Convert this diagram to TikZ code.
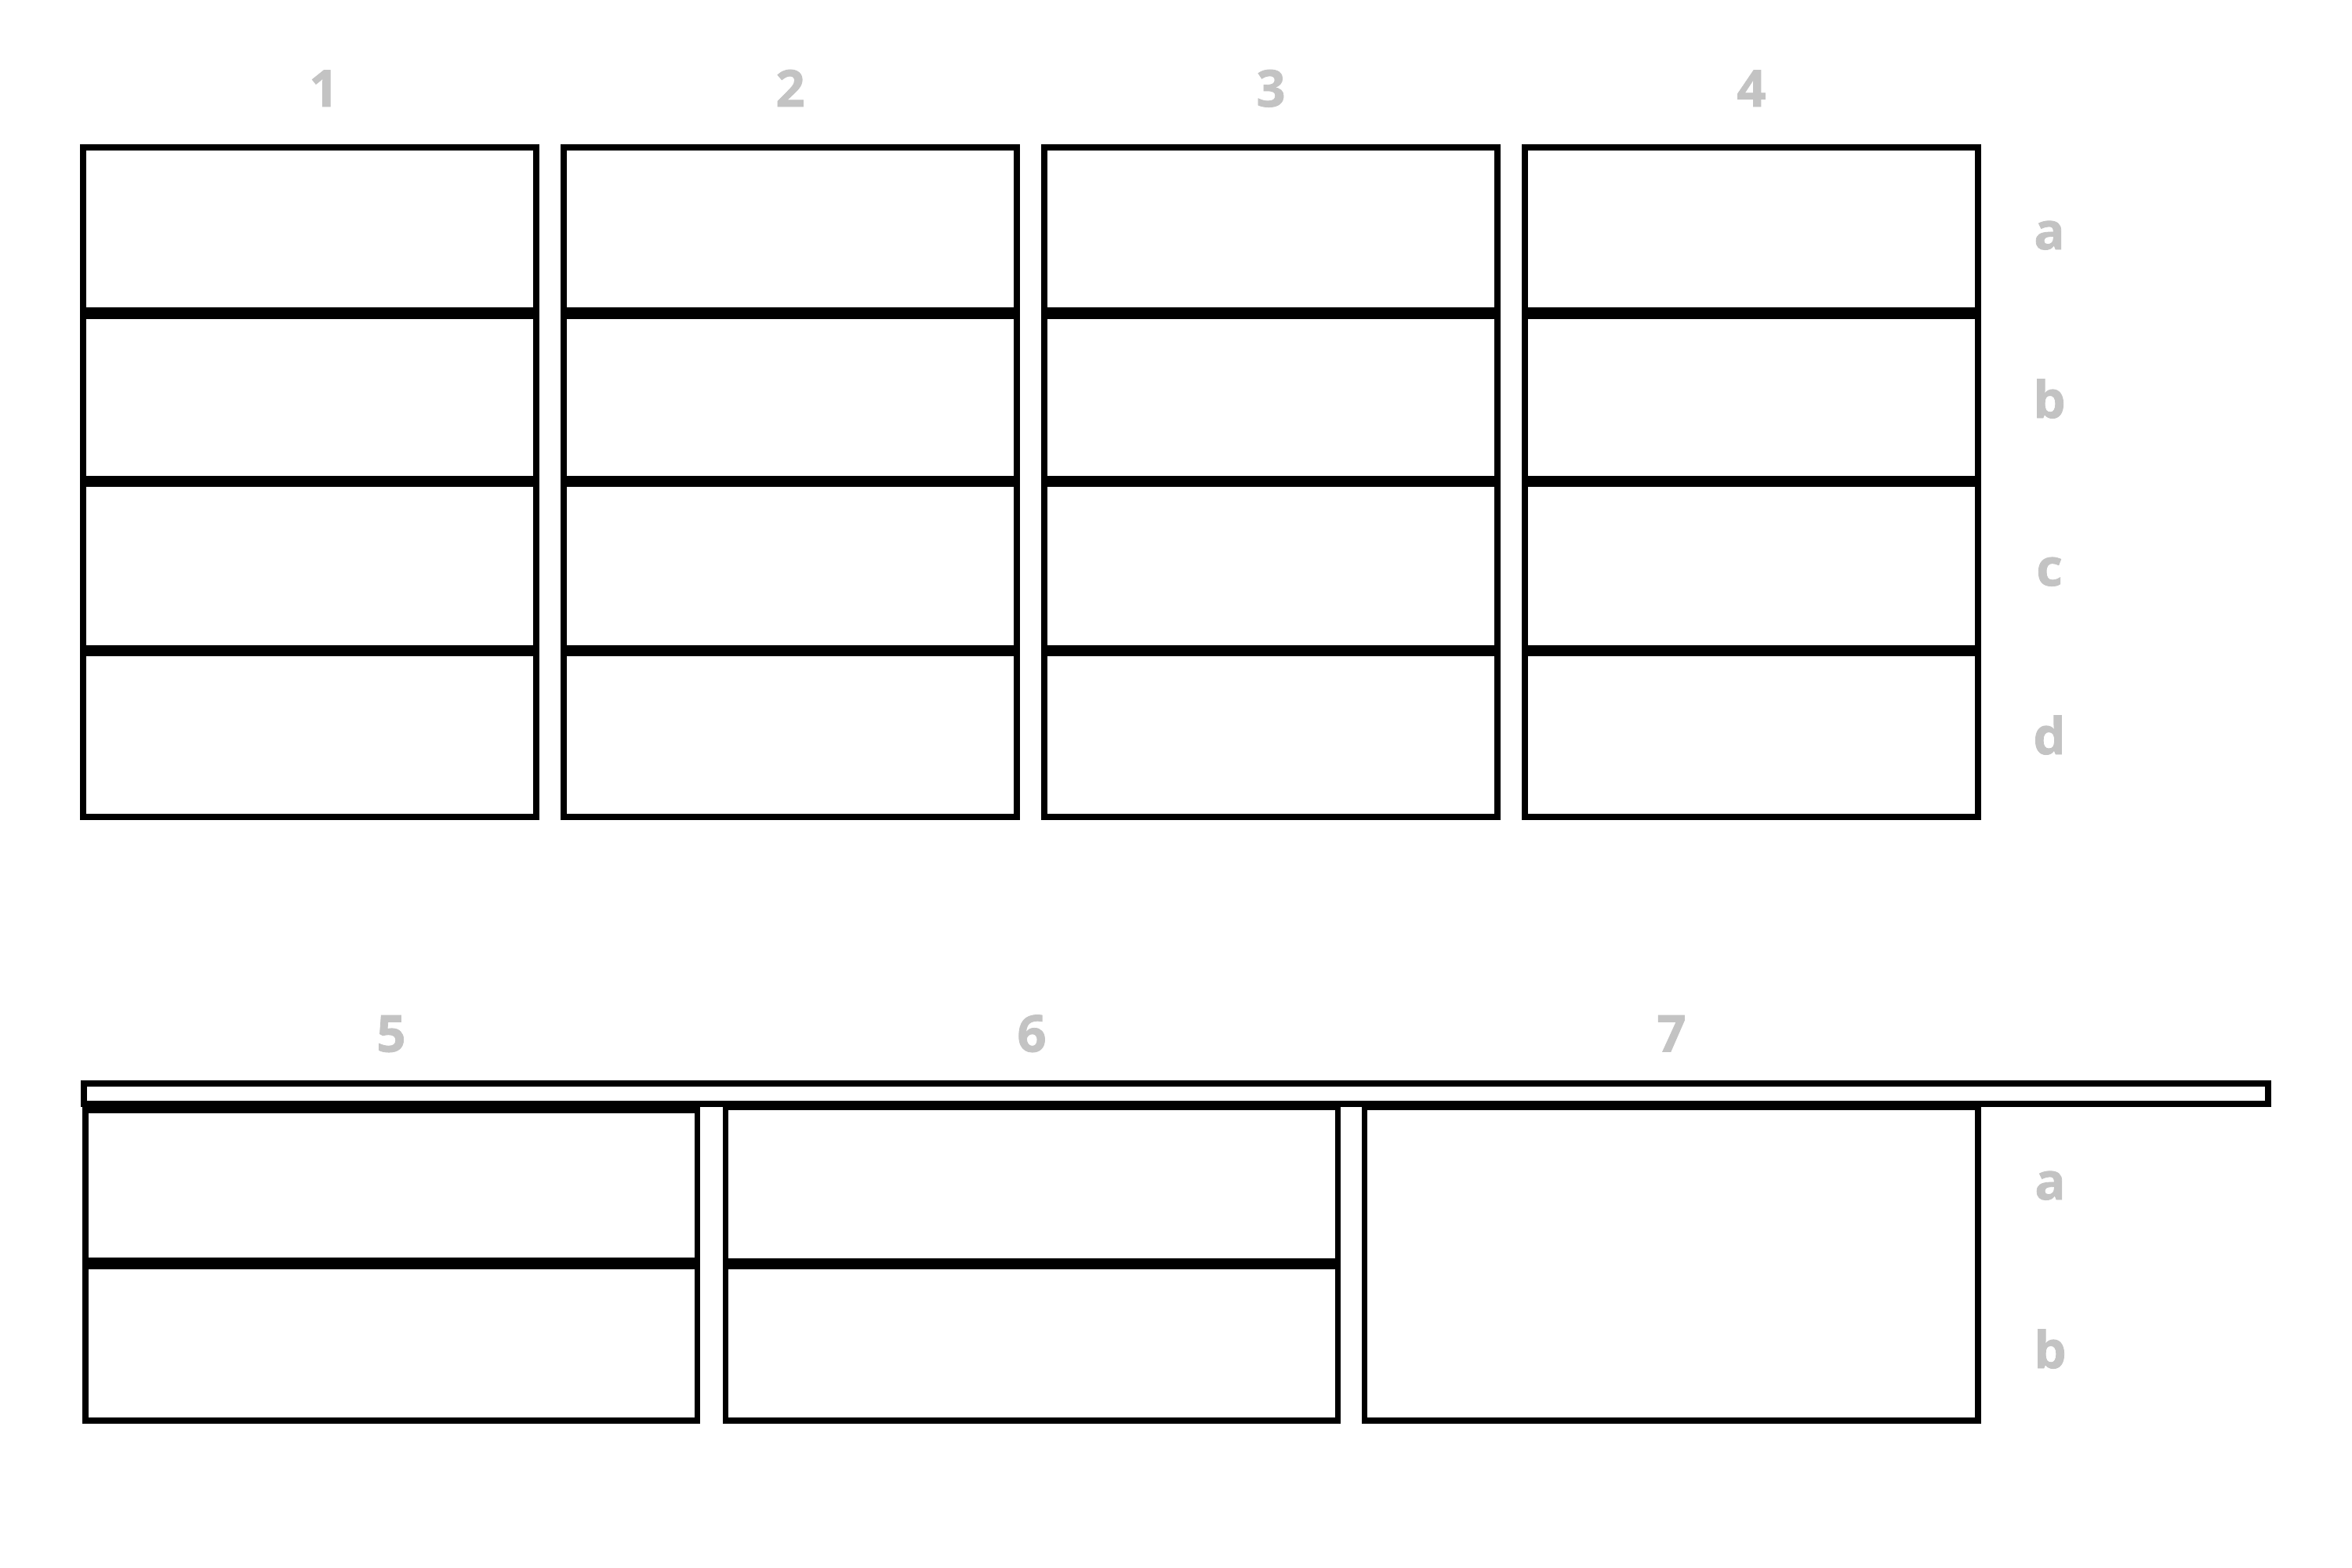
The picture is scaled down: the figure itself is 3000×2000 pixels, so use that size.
\documentclass[tikz,border=0pt]{standalone}
\usepackage{fontspec}
\setmainfont{Open Sans}
\newfontfamily\labfont{Open Sans}[BoldFeatures={FakeBold=1.2}]
\definecolor{lbl}{RGB}{195,195,195}
\begin{document}
\begin{tikzpicture}[x=0.01cm,y=-0.01cm,
  frame/.style={draw=black,line width=2.1pt},
  divider/.style={draw=black,line width=4.1pt},
  lab/.style={text=lbl,font=\fontsize{18.5}{20}\labfont\bfseries,anchor=base,inner sep=0pt}]
\useasboundingbox[fill=white] (0,0) rectangle (3000,2000);
% top row of cabinets
\foreach \i/\x/\dx in {1/106/18,2/719/0,3/1332/0,4/1945/0}{
  \draw[frame] (\x,188) rectangle ++(578,854);
  \foreach \y in {399.5,614,830} \draw[divider] (\x,\y) -- ++(578,0);
  \node[lab] (top\i) at (\x+289+\dx,136) {\i};
}
\node[lab] (ra) at (2614,318) {a};
\node[lab] (rb) at (2614,533) {b};
\node[lab] (rc) at (2614,747) {c};
\node[lab] (rd) at (2614,962) {d};
% bottom row
\draw[frame] (109,1416) rectangle (889.7,1812);
\draw[divider] (109,1611.6) -- (889.7,1611.6);
\draw[frame] (925.5,1412) rectangle (1706.7,1812);
\draw[divider] (925.5,1612) -- (1706.7,1612);
\draw[frame] (1740.5,1412) rectangle (2523,1812);
\draw[frame,line width=2.25pt] (107,1382) rectangle (2893,1408);
\node[lab] (b5) at (499,1341.5) {5};
\node[lab] (b6) at (1316,1341.5) {6};
\node[lab] (b7) at (2132,1341.5) {7};
\node[lab] (la) at (2615,1530) {a};
\node[lab] (lb) at (2615,1745) {b};
\end{tikzpicture}
\end{document}
